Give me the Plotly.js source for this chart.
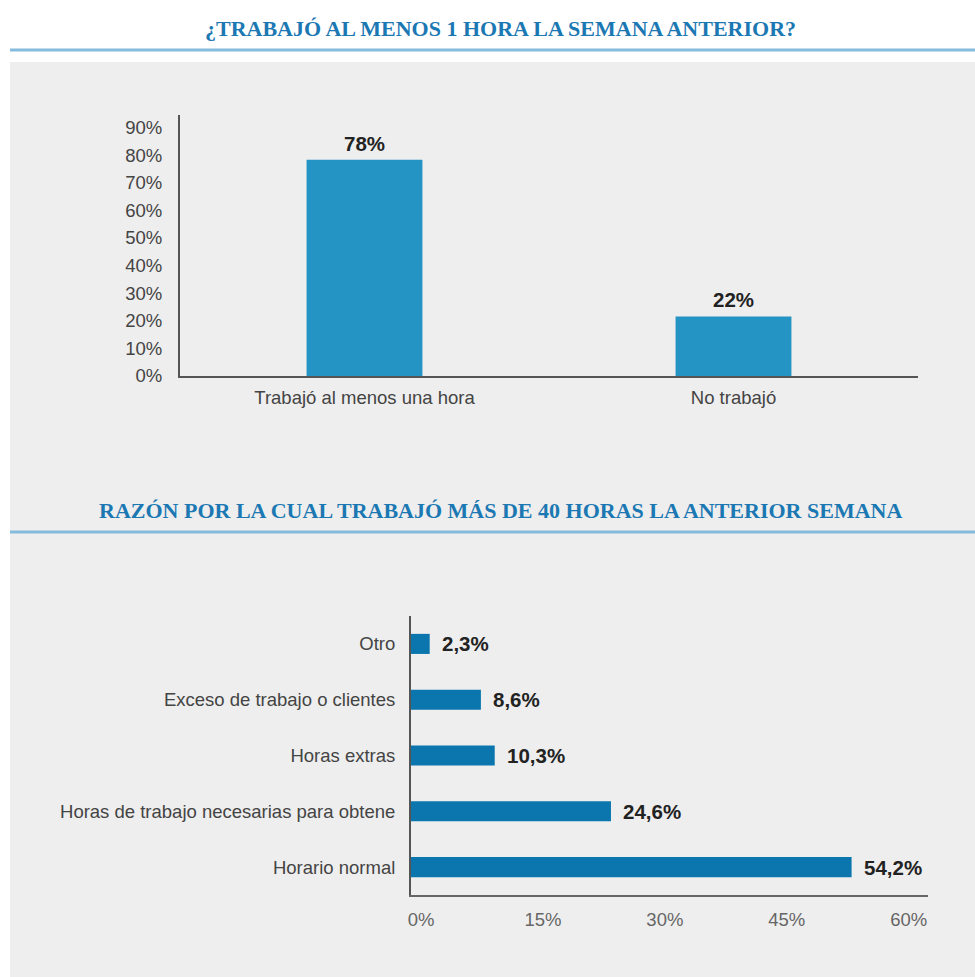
<!DOCTYPE html>
<html>
<head>
<meta charset="utf-8">
<script src="https://cdn.plot.ly/plotly-3.0.1.min.js"></script>
<style>html,body{margin:0;padding:0;background:#fff;}#chart{width:975px;height:977px;}</style>
</head>
<body>
<div id="chart"></div>
<script>
// Top chart data
const topTitle = "¿TRABAJÓ AL MENOS 1 HORA LA SEMANA ANTERIOR?";
const topCategories = ["Trabajó al menos una hora", "No trabajó"];
const topValues = [0.784, 0.216];
const topLabels = ["78%", "22%"];
const topTickVals = [0, 0.1, 0.2, 0.3, 0.4, 0.5, 0.6, 0.7, 0.8, 0.9];
const topTickText = ["0%", "10%", "20%", "30%", "40%", "50%", "60%", "70%", "80%", "90%"];

// Bottom chart data
const bottomTitle = "RAZÓN POR LA CUAL TRABAJÓ MÁS DE 40 HORAS LA ANTERIOR SEMANA";
const bottomCategories = ["Horario normal", "Horas de trabajo necesarias para obtene", "Horas extras", "Exceso de trabajo o clientes", "Otro"];
const bottomValues = [54.2, 24.6, 10.3, 8.6, 2.3];
const bottomLabels = ["54,2%", "24,6%", "10,3%", "8,6%", "2,3%"];
const bottomTickVals = [0, 15, 30, 45, 60];
const bottomTickText = ["0%", "15%", "30%", "45%", "60%"];

const W = 975, H = 977;
const px = x => x / W;
const py = y => 1 - y / H;

const sans = "Liberation Sans, Arial, sans-serif";
const serif = "Liberation Serif, Times New Roman, serif";

const traces = [
  {
    type: "bar", x: topCategories, y: topValues,
    xaxis: "x", yaxis: "y",
    marker: {color: "#2394c3", line: {width: 0}},
    width: 0.314, hoverinfo: "none"
  },
  {
    type: "bar", orientation: "h", x: bottomValues, y: bottomCategories,
    xaxis: "x2", yaxis: "y2",
    marker: {color: "#0a76ad", line: {width: 0}},
    width: 0.36, hoverinfo: "none"
  }
];

const annotations = [
  {text: "<b>" + topTitle + "</b>", xref: "paper", yref: "paper", x: 0.513, y: py(29),
   xanchor: "center", yanchor: "middle", showarrow: false,
   font: {family: serif, size: 22, color: "#1b78b3"}},
  {text: "<b>" + bottomTitle + "</b>", xref: "paper", yref: "paper", x: 0.513, y: py(510),
   xanchor: "center", yanchor: "middle", showarrow: false,
   font: {family: serif, size: 22, color: "#1b78b3"}}
];
topValues.forEach((v, i) => annotations.push({
  text: "<b>" + topLabels[i] + "</b>", xref: "x", yref: "y", x: topCategories[i], y: v,
  xanchor: "center", yanchor: "bottom", yshift: 3, showarrow: false,
  font: {family: sans, size: 20.5, color: "#222"}
}));
bottomValues.forEach((v, i) => annotations.push({
  text: "<b>" + bottomLabels[i] + "</b>", xref: "x2", yref: "y2", x: v, y: bottomCategories[i],
  xanchor: "left", yanchor: "middle", xshift: 10, showarrow: false,
  font: {family: sans, size: 20.5, color: "#222"}
}));

const layout = {
  width: W, height: H,
  margin: {l: 0, r: 0, t: 0, b: 0},
  paper_bgcolor: "#ffffff",
  plot_bgcolor: "rgba(0,0,0,0)",
  showlegend: false,
  bargap: 0.686,
  font: {family: sans, color: "#444"},
  shapes: [
    {type: "rect", xref: "paper", yref: "paper", x0: px(10), x1: 1, y0: 0, y1: py(62),
     fillcolor: "#eeeeee", line: {width: 0}, layer: "below"},
    {type: "line", xref: "paper", yref: "paper", x0: px(10), x1: 1, y0: py(50), y1: py(50),
     line: {color: "#86bbdc", width: 3}},
    {type: "line", xref: "paper", yref: "paper", x0: px(10), x1: 1, y0: py(532), y1: py(532),
     line: {color: "#86bbdc", width: 3}}
  ],
  annotations: annotations,
  xaxis: {
    domain: [px(180), px(918)], anchor: "y",
    showline: true, linecolor: "#555", linewidth: 2,
    showgrid: false, zeroline: false, ticks: "",
    tickfont: {family: sans, size: 18.5, color: "#444"}, ticklabelstandoff: 4,
    fixedrange: true
  },
  yaxis: {
    domain: [py(376), py(115)], anchor: "x",
    range: [0, 0.9457],
    tickvals: topTickVals, ticktext: topTickText,
    showline: true, linecolor: "#555", linewidth: 2,
    showgrid: false, zeroline: false, ticks: "",
    tickfont: {family: sans, size: 18.5, color: "#444"}, ticklabelstandoff: 12,
    fixedrange: true
  },
  xaxis2: {
    domain: [px(411), px(928)], anchor: "y2",
    range: [0, 63.6],
    tickvals: bottomTickVals, ticktext: bottomTickText,
    showline: true, linecolor: "#666", linewidth: 2,
    showgrid: false, zeroline: false, ticks: "",
    tickfont: {family: sans, size: 18.5, color: "#666"}, ticklabelstandoff: 7, ticklabelshift: 10,
    fixedrange: true
  },
  yaxis2: {
    domain: [py(895), py(616)], anchor: "x2",
    range: [-0.5, 4.5],
    showline: true, linecolor: "#555", linewidth: 2,
    showgrid: false, zeroline: false, ticks: "",
    tickfont: {family: sans, size: 18.5, color: "#444"}, ticklabelstandoff: 10,
    fixedrange: true
  }
};

Plotly.newPlot("chart", traces, layout, {displayModeBar: false, staticPlot: true});
</script>
</body>
</html>
